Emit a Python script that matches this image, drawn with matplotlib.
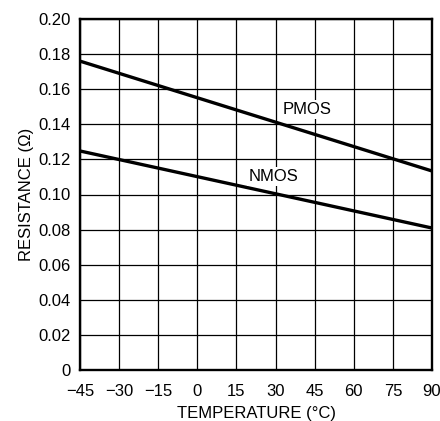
import matplotlib.pyplot as plt
import numpy as np

plt.rcParams['font.family'] = ['Liberation Sans', 'DejaVu Sans']

# temperature (°C) and on-resistance (ohm)
temp = [-45, 90]
pmos = [0.176, 0.1134]
nmos = [0.1248, 0.0809]

xticks = [-45, -30, -15, 0, 15, 30, 45, 60, 75, 90]
xlabels = ['\u221245', '\u221230', '\u221215', '0', '15', '30', '45', '60', '75', '90']
yticks = np.arange(0, 0.201, 0.02)
ylabels = ['0'] + ['%.2f' % v for v in yticks[1:]]

fig = plt.figure(figsize=(4.40, 4.21), dpi=100)
ax = fig.add_axes([80 / 440, 51 / 421, 352 / 440, 351 / 421])

ax.plot(temp, pmos, color='black', lw=2.4, zorder=3)
ax.plot(temp, nmos, color='black', lw=2.4, zorder=3)

ax.set_xlim(-45, 90)
ax.set_ylim(0, 0.20)
ax.set_xticks(xticks)
ax.set_xticklabels(xlabels)
ax.set_yticks(yticks)
ax.set_yticklabels(ylabels)
ax.tick_params(length=0, labelsize=12)
ax.tick_params(axis='x', pad=10)
ax.tick_params(axis='y', pad=7)
ax.grid(True, color='black', lw=0.9)
for s in ax.spines.values():
    s.set_linewidth(1.7)

box = dict(facecolor='white', edgecolor='none', pad=1.5)
ax.text(42, 0.1487, 'PMOS', fontsize=12, ha='center', va='center', bbox=box, zorder=4)
ax.text(29.4, 0.110, 'NMOS', fontsize=12, ha='center', va='center', bbox=box, zorder=4)

ax.set_xlabel('TEMPERATURE (\u00b0C)', fontsize=12, labelpad=5)
ax.set_ylabel('RESISTANCE (\u03a9)', fontsize=12, labelpad=3)

fig.savefig('out.png', dpi=100)
